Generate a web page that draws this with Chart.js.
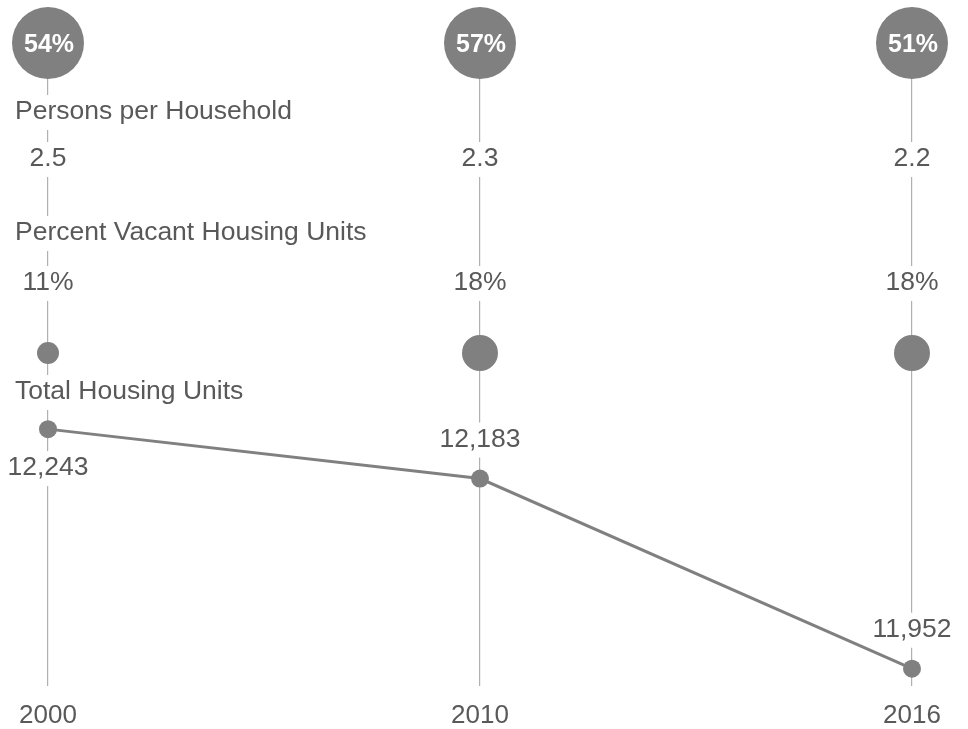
<!DOCTYPE html>
<html>
<head>
<meta charset="utf-8">
<script src="https://cdn.jsdelivr.net/npm/chart.js@4.4.1/dist/chart.umd.min.js"></script>
<style>
    html, body { margin: 0; padding: 0; background: #fff; }
    #wrap { position: relative; width: 968px; height: 729px; }
</style>
</head>
<body>
<div id="wrap"><canvas id="housing"></canvas></div>
<script>
const years = ['2000', '2010', '2016'];
const circlePct = [54, 57, 51];
const personsPerHousehold = [2.5, 2.3, 2.2];
const vacantPct = [11, 18, 18];
const totalUnits = [12243, 12183, 11952];

const GREY = '#808080';
const TEXT = '#595959';
const FONT = '"Liberation Sans", Arial, sans-serif';

// vertical row positions on the hidden yRow axis (pixels from the top)
const ROW = {
    circle: 43,
    personsLabel: 112,
    personsValue: 159,
    vacantLabel: 233,
    vacantValue: 283,
    vacantDot: 353,
    unitsLabel: 392,
};

function textBox(ctx, text, x, y, align) {
    const w = ctx.measureText(text).width;
    const left = align === 'left' ? x : x - w / 2;
    ctx.fillStyle = '#fff';
    ctx.fillRect(left - 3, y - 17, w + 6, 35);
    ctx.fillStyle = TEXT;
    ctx.textAlign = align;
    ctx.fillText(text, x, y);
}

const rowText = {
    id: 'rowText',
    beforeDatasetsDraw(chart) {
        const ctx = chart.ctx;
        const xs = chart.scales.x;
        const row = chart.scales.yRow;
        const left = xs.getPixelForValue(0) - 33;
        ctx.save();
        ctx.font = '26.5px ' + FONT;
        ctx.textBaseline = 'middle';

        textBox(ctx, 'Persons per Household', left, row.getPixelForValue(ROW.personsLabel), 'left');
        textBox(ctx, 'Percent Vacant Housing Units', left, row.getPixelForValue(ROW.vacantLabel), 'left');
        textBox(ctx, 'Total Housing Units', left, row.getPixelForValue(ROW.unitsLabel), 'left');

        years.forEach((yr, i) => {
            const x = xs.getPixelForValue(i);
            textBox(ctx, personsPerHousehold[i].toFixed(1), x, row.getPixelForValue(ROW.personsValue), 'center');
            textBox(ctx, vacantPct[i] + '%', x, row.getPixelForValue(ROW.vacantValue), 'center');
        });

        // housing unit values: first one sits under its point, the rest above
        const pts = chart.getDatasetMeta(2).data;
        pts.forEach((pt, i) => {
            const dy = i === 0 ? 39 : -39;
            textBox(ctx, totalUnits[i].toLocaleString('en-US'), pt.x, pt.y + dy, 'center');
        });
        ctx.restore();
    },
    afterDatasetsDraw(chart) {
        const ctx = chart.ctx;
        const pts = chart.getDatasetMeta(0).data;
        ctx.save();
        ctx.font = 'bold 25px ' + FONT;
        ctx.fillStyle = '#fff';
        ctx.textAlign = 'center';
        ctx.textBaseline = 'middle';
        pts.forEach((pt, i) => {
            ctx.fillText(circlePct[i] + '%', pt.x + 1, pt.y + 2);
        });
        ctx.restore();
    },
};

new Chart(document.getElementById('housing'), {
    data: {
        labels: years,
        datasets: [
            {
                type: 'bubble',
                label: 'Share',
                data: years.map((yr) => ({ x: yr, y: ROW.circle, r: 36 })),
                yAxisID: 'yRow',
                backgroundColor: GREY,
                borderWidth: 0,
                hoverRadius: 0,
                clip: false,
            },
            {
                type: 'bubble',
                label: 'Percent Vacant Housing Units',
                data: years.map((yr, i) => ({ x: yr, y: ROW.vacantDot, r: vacantPct[i] })),
                yAxisID: 'yRow',
                backgroundColor: GREY,
                borderWidth: 0,
                hoverRadius: 0,
                clip: false,
            },
            {
                type: 'line',
                label: 'Total Housing Units',
                data: totalUnits,
                yAxisID: 'yUnits',
                borderColor: GREY,
                backgroundColor: GREY,
                borderWidth: 3,
                pointRadius: 9,
                pointBorderWidth: 0,
                pointHoverRadius: 9,
                tension: 0,
                clip: false,
            },
        ],
    },
    options: {
        responsive: true,
        maintainAspectRatio: false,
        animation: false,
        events: [],
        layout: { padding: { left: 48, right: 56, top: 43, bottom: 0 } },
        plugins: {
            legend: { display: false },
            tooltip: { enabled: false },
        },
        scales: {
            x: {
                type: 'category',
                offset: false,
                grid: { color: '#b0b0b0', lineWidth: 1.2, drawTicks: false },
                border: { display: false },
                ticks: { color: TEXT, font: { size: 26, family: FONT }, padding: 14.5, maxRotation: 0 },
                afterFit(scale) {
                    scale.height = 43;
                },
            },
            yUnits: {
                type: 'linear',
                axis: 'y',
                display: false,
                min: 11931,
                max: 12712,
            },
            yRow: {
                type: 'linear',
                axis: 'y',
                display: false,
                reverse: true,
                min: 43,
                max: 686,
            },
        },
    },
    plugins: [rowText],
});
</script>
</body>
</html>
